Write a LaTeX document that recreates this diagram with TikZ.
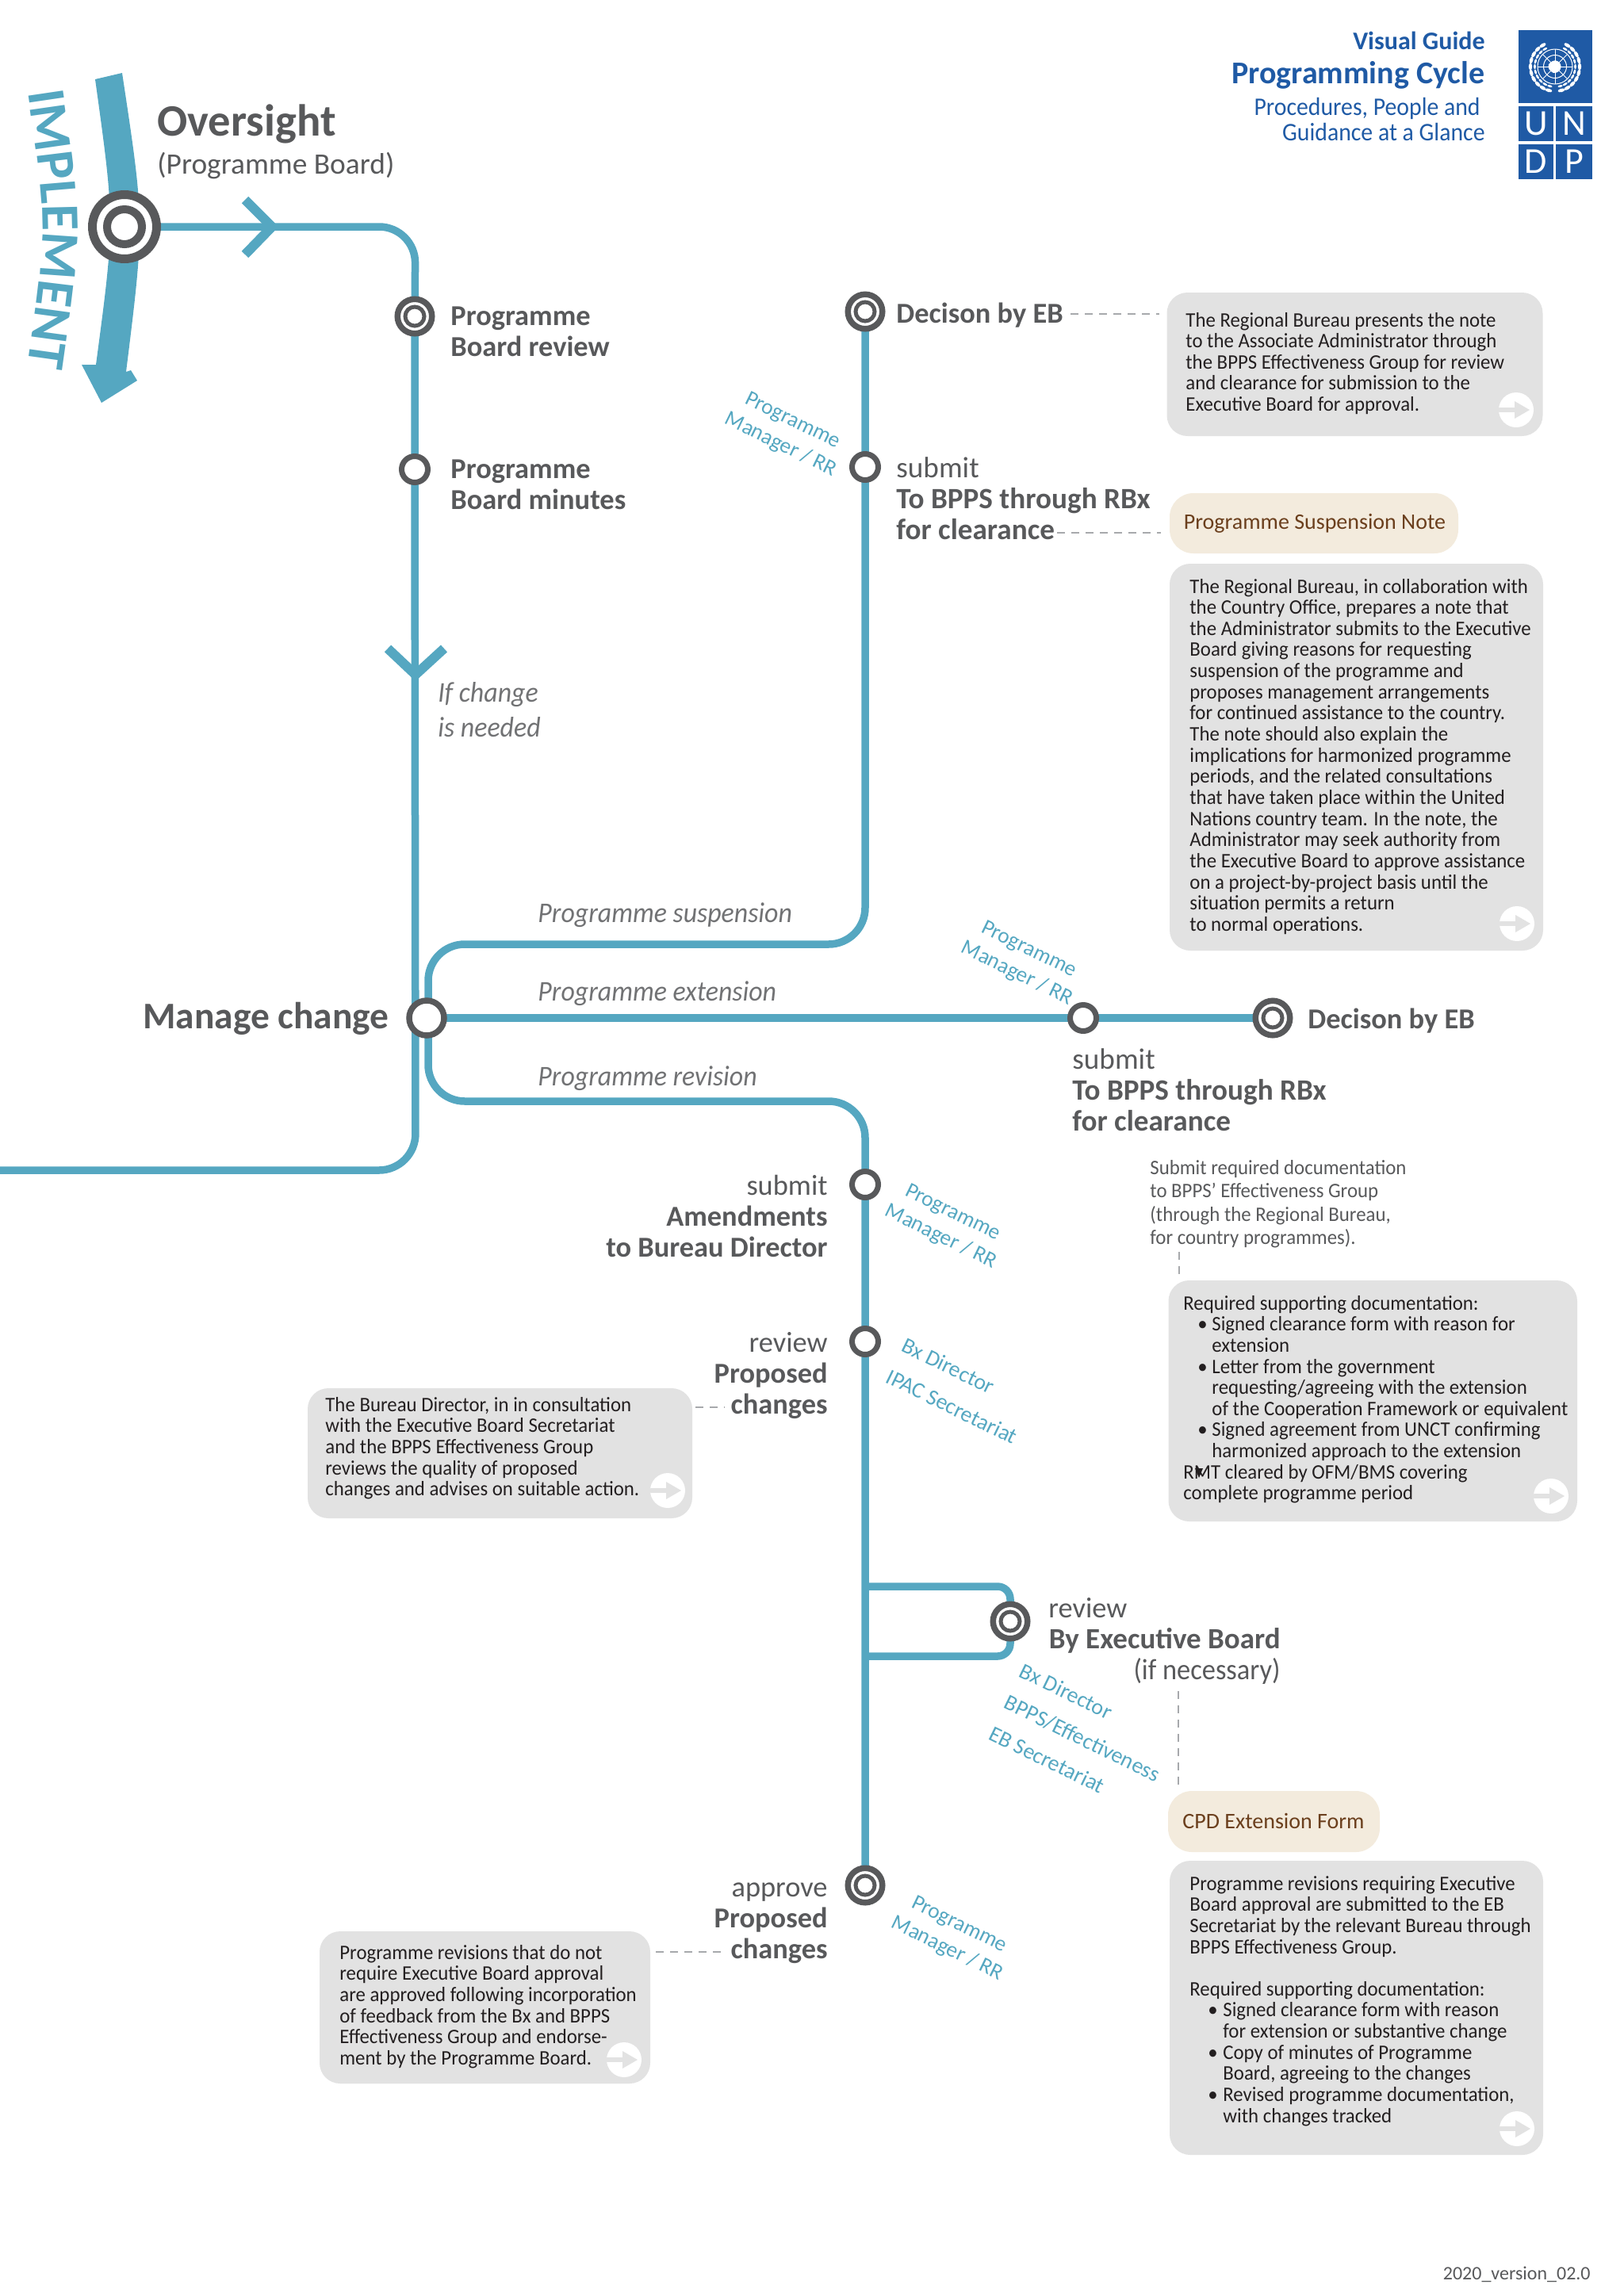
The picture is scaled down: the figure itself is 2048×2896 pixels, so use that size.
\documentclass[tikz,border=0pt]{standalone}
\usepackage{fontspec}
\setmainfont{Carlito}
\newfontfamily\bodyf[FakeStretch=0.955]{Carlito}
\newfontfamily\itf[FakeStretch=0.94]{Carlito}
\newfontfamily\headf[FakeStretch=0.93]{Carlito}
\usetikzlibrary{backgrounds,decorations.text}
\definecolor{tealline}{HTML}{55A7C1}
\definecolor{ringdark}{HTML}{58595B}
\definecolor{undpblue}{HTML}{1F5AA5}
\definecolor{boxgray}{HTML}{E2E2E2}
\definecolor{boxtan}{HTML}{F3EBDD}
\definecolor{tantext}{HTML}{6B3F1D}
\definecolor{bodyblack}{HTML}{231F20}
\definecolor{dashgray}{HTML}{A7A9AC}
\newcommand\Tl[1]{\begin{tabular}[t]{@{}l@{}}#1\end{tabular}}
\newcommand\Tr[1]{\begin{tabular}[t]{@{}r@{}}#1\end{tabular}}
\newcommand\Tc[1]{\begin{tabular}[t]{@{}c@{}}#1\end{tabular}}
\newcommand\bita[1]{\hspace*{9pt}\makebox[9pt][l]{\textbullet}#1}
\newcommand\bitb[1]{\hspace*{18pt}#1}
\newcommand\bitc[1]{\hspace*{11.5pt}\makebox[9.5pt][l]{\textbullet}#1}
\newcommand\bitd[1]{\hspace*{21pt}#1}
\tikzset{
  x=0.5pt,y=-0.5pt,
  tline/.style={draw=tealline,line width=4.75pt,rounded corners=23pt},
  tlinesmall/.style={draw=tealline,line width=4.75pt,rounded corners=8pt},
  chev/.style={draw=tealline,line width=6pt,miter limit=10},
  ringsm/.style={circle,draw=ringdark,fill=white,line width=3.5pt,minimum size=16.5pt,inner sep=0pt},
  ringmc/.style={circle,draw=ringdark,fill=white,line width=3.75pt,minimum size=22pt,inner sep=0pt},
  ringmid/.style={circle,draw=ringdark,fill=white,line width=3.75pt,minimum size=21.75pt,inner sep=0pt},
  ringmidin/.style={circle,draw=ringdark,fill=white,line width=2.5pt,minimum size=12pt,inner sep=0pt},
  ringbig/.style={circle,draw=ringdark,fill=white,line width=5.5pt,minimum size=40.5pt,inner sep=0pt},
  ringbigin/.style={circle,draw=ringdark,fill=white,line width=5pt,minimum size=22pt,inner sep=0pt},
  lbl/.style={inner sep=0pt,text=ringdark,font=\fontsize{18.2}{19.5}\selectfont},
  lbw/.style={lbl,anchor=base west},
  lbe/.style={lbl,anchor=base east},
  ital/.style={inner sep=0pt,anchor=base west,text=ringdark!85,font=\fontsize{18}{22}\selectfont\itf\itshape},
  rot/.style={inner sep=0pt,text=tealline,rotate=-26,font=\fontsize{13.7}{17}\selectfont},
  rotw/.style={rot,font=\fontsize{14}{22}\selectfont},
  body/.style={inner sep=0pt,anchor=base west,text=bodyblack,font=\fontsize{13}{13.33}\selectfont\bodyf},
  gbox/.style={fill=boxgray,rounded corners=13pt},
  dashc/.style={draw=dashgray,line width=1pt,dash pattern=on 5pt off 4pt},
  gocirc/.style={circle,fill=white,minimum size=22pt,inner sep=0pt,
    path picture={\fill[boxgray] ([shift={(-11pt,-1.6pt)}]path picture bounding box.center) rectangle ([shift={(-1pt,1.6pt)}]path picture bounding box.center);
      \fill[boxgray] ([shift={(-1pt,5.5pt)}]path picture bounding box.center) -- ([shift={(8.5pt,0pt)}]path picture bounding box.center) -- ([shift={(-1pt,-5.5pt)}]path picture bounding box.center) -- cycle;}},
  logosq/.style={fill=undpblue},
  logotxt/.style={inner sep=0pt,text=white,font=\fontsize{23}{23}\selectfont},
}
\begin{document}
\begin{tikzpicture}
\useasboundingbox (0,0) rectangle (2048,2896);

% IMPLEMENT band
\fill[tealline] (120,100) .. controls (145,280) .. (121,460) -- (103,460) -- (128,508) -- (173,480) -- (165,467) -- (159,469) .. controls (182.5,280) .. (154,92) -- cycle;
\path[decorate,decoration={text along path,text align={fit to path},
  text={|\fontsize{34}{34}\selectfont\bfseries\color{tealline}|IMPLEMENT}}]
  (35,116) .. controls (60,285) .. (35,462);

% Rings
\node[ringbig] (ov) at (157,286) {};
\node[ringbigin] (ovi) at (157,286) {};
\node[ringmid] (pbr) at (523,399) {};
\node[ringmidin] (pbri) at (523,399) {};
\node[ringsm] (pbm) at (523,592) {};
\node[ringmc] (mc) at (538,1284) {};
\node[ringmid] (d1) at (1091,393) {};
\node[ringmidin] (d1i) at (1091,393) {};
\node[ringsm] (s1) at (1091,589) {};
\node[ringsm] (s2) at (1366,1284) {};
\node[ringmid] (d2) at (1605,1284) {};
\node[ringmidin] (d2i) at (1605,1284) {};
\node[ringsm] (a1) at (1091,1494) {};
\node[ringsm] (r1) at (1091,1692) {};
\node[ringmid] (eb) at (1274,2045) {};
\node[ringmidin] (ebi) at (1274,2045) {};
\node[ringmid] (ap) at (1091,2378) {};
\node[ringmidin] (api) at (1091,2378) {};

\coordinate (c1) at (524,286);
\coordinate (c2) at (524,1476);
\coordinate (leftend) at (0,1476);
\coordinate (sus1) at (540,1191);
\coordinate (sus2) at (1091,1191);
\coordinate (rev1) at (540,1389);
\coordinate (rev2) at (1091,1389);
\coordinate (ebt0) at (1091,2001);
\coordinate (ebt1) at (1274,2001);
\coordinate (ebb0) at (1091,2089);
\coordinate (ebb1) at (1274,2089);
\coordinate (mcu) at (540,1284);

\begin{scope}[on background layer]
\draw[tline] (ov.center) -- (c1) -- (pbr.center) -- (pbm.center) -- (c2) -- (leftend);
\draw[tline] (mcu) -- (sus1) -- (sus2) -- (s1.center) -- (d1.center);
\draw[tline] (mc.center) -- (s2.center) -- (d2.center);
\draw[tline] (mcu) -- (rev1) -- (rev2) -- (a1.center) -- (r1.center) -- (ap.center);
\draw[tlinesmall] (ebt0) -- (ebt1) -- (eb.center);
\draw[tlinesmall] (ebb0) -- (ebb1) -- (eb.center);
\end{scope}

% chevrons
\coordinate (ch1a) at (309,252); \coordinate (ch1b) at (343,286); \coordinate (ch1c) at (309,321);
\draw[chev] (ch1a) -- (ch1b) -- (ch1c);
\coordinate (ch2a) at (489,818); \coordinate (ch2b) at (524,851); \coordinate (ch2c) at (560,818);
\draw[chev] (ch2a) -- (ch2b) -- (ch2c);

% Main labels
\node[lbw,font=\fontsize{28.3}{30}\selectfont\bfseries] (t1) at (198,171) {Oversight};
\node[lbw,font=\fontsize{18.7}{20}\selectfont] (t2) at (198,219) {(Programme Board)};
\node[lbw] (t3) at (568,410) {\Tl{\bfseries Programme\\\bfseries Board review}};
\node[lbw] (t4) at (568,603) {\Tl{\bfseries Programme\\\bfseries Board minutes}};
\node[ital] (t5) at (552,885) {\Tl{If change\\is needed}};
\node[lbw] (t6) at (1130,407) {\bfseries Decison by EB};
\node[lbw,font=\fontsize{18.6}{19.5}\selectfont] (t7) at (1130,602) {\Tl{submit\\\bfseries To BPPS through RBx\\\bfseries for clearance}};
\node[lbe,font=\fontsize{23.7}{26}\selectfont\bfseries] (t8) at (491,1297) {Manage change};
\node[ital] (t9) at (678,1163) {Programme suspension};
\node[ital] (t10) at (678,1262) {Programme extension};
\node[ital] (t11) at (678,1369) {Programme revision};
\node[lbw] (t12) at (1649,1297) {\bfseries Decison by EB};
\node[lbw,font=\fontsize{18.6}{19.5}\selectfont] (t13) at (1352,1348) {\Tl{submit\\\bfseries To BPPS through RBx\\\bfseries for clearance}};
\node[lbe] (t14) at (1044,1507) {\Tr{submit\\\bfseries Amendments\\\bfseries to Bureau Director}};
\node[lbe] (t15) at (1044,1705) {\Tr{review\\\bfseries Proposed\\\bfseries changes}};
\node[lbe] (t16) at (1044,2392) {\Tr{approve\\\bfseries Proposed\\\bfseries changes}};
\node[lbw] (t17) at (1322,2040) {review};
\node[lbe,font=\fontsize{18.5}{19.5}\selectfont] (t18) at (1615,2079) {\Tr{\bfseries By Executive Board\\{\headf (if necessary)}}};

% Rotated role labels
\node[rot] (g1) at (992,546) {\Tc{Programme\\Manager / RR}};
\node[rot] (g2) at (1290,1213) {\Tc{Programme\\Manager / RR}};
\node[rot] (g3) at (1194,1545) {\Tc{Programme\\Manager / RR}};
\node[rotw] (g4) at (1210,1755) {\Tl{Bx Director\\IPAC Secretariat}};
\node[rotw,anchor=north west] (g5) at (1297,2086) {\Tl{Bx Director\\BPPS/Effectiveness\\EB Secretariat}};
\node[rot] (g6) at (1202,2443) {\Tc{Programme\\Manager / RR}};

% Header
\node[inner sep=0pt,anchor=base east,text=undpblue,font=\fontsize{16}{18}\selectfont\bfseries] (h1) at (1873,62) {Visual Guide};
\node[inner sep=0pt,anchor=base east,text=undpblue,font=\fontsize{20}{22}\selectfont\bfseries] (h2) at (1873,105) {Programming Cycle};
\node[inner sep=0pt,anchor=base east,text=undpblue,font=\fontsize{16}{18}\selectfont\headf] (h3) at (1867,145) {Procedures, People and};
\node[inner sep=0pt,anchor=base east,text=undpblue,font=\fontsize{16}{18}\selectfont\headf] (h4) at (1873,177) {Guidance at a Glance};

% Logo
\fill[logosq] (1914.5,38) rectangle (2007.5,130);
\fill[logosq] (1914.5,134) rectangle (1959,178);
\fill[logosq] (1962,134) rectangle (2007.5,178);
\fill[logosq] (1914.5,182) rectangle (1959,226);
\fill[logosq] (1962,182) rectangle (2007.5,226);
\node[logotxt] (lu) at (1937,156) {U};
\node[logotxt] (ln) at (1985,156) {N};
\node[logotxt] (ld) at (1937,204) {D};
\node[logotxt] (lp) at (1985,204) {P};
\begin{scope}[shift={(1961,84)}]
  \draw[white,line width=0.5pt] (0,0) circle[radius=22] (0,0) circle[radius=14.5] (0,0) circle[radius=7];
  \foreach \a in {0,45,...,315} \draw[white,line width=0.5pt] (0,0) -- (\a:22);
  \fill[white] (-8,-3) .. controls (-2,-10) and (6,-8) .. (7,-2) .. controls (9,4) and (2,9) .. (-2,8) .. controls (-6,6) and (-10,2) .. (-8,-3);
  \foreach \a in {-60,-45,...,75} {
    \fill[white,rotate=\a] (-31,0) ellipse[x radius=2.2,y radius=4.5];
    \fill[white,rotate=-\a] (31,0) ellipse[x radius=2.2,y radius=4.5];
    \fill[white,rotate=\a] (-25.5,0) ellipse[x radius=1.4,y radius=3.2];
    \fill[white,rotate=-\a] (25.5,0) ellipse[x radius=1.4,y radius=3.2];
  }
\end{scope}

% Grey boxes
\fill[gbox] (1471.5,369) rectangle (1945.5,550);
\node[body] (b1) at (1495,412) {\Tl{The Regional Bureau presents the note\\to the Associate Administrator through\\the BPPS Effectiveness Group for review\\and clearance for submission to the\\Executive Board for approval.}};
\node[gocirc] (b1g) at (1912,517) {};
\coordinate (dA0) at (1350,396); \coordinate (dA1) at (1462,396);
\draw[dashc] (dA0) -- (dA1);

\fill[boxtan,rounded corners=15pt] (1475,622) rectangle (1839,698);
\node[inner sep=0pt,text=tantext,font=\fontsize{14}{16}\selectfont] (n1) at (1658,660) {Programme Suspension Note};
\coordinate (dB0) at (1333,672); \coordinate (dB1) at (1464,672);
\draw[dashc] (dB0) -- (dB1);

\fill[gbox] (1475,711) rectangle (1946,1199);
\node[body] (b2) at (1500,748) {\Tl{The Regional Bureau, in collaboration with\\the Country Office, prepares a note that\\the Administrator submits to the Executive\\Board giving reasons for requesting\\suspension of the programme and\\proposes management arrangements\\for continued assistance to the country.\\The note should also explain the\\implications for harmonized programme\\periods, and the related consultations\\that have taken place within the United\\Nations country team. In the note, the\\Administrator may seek authority from\\the Executive Board to approve assistance\\on a project-by-project basis until the\\situation permits a return\\to normal operations.}};
\node[gocirc] (b2g) at (1913,1165) {};

\node[body,text=ringdark,font=\fontsize{13}{14.75}\selectfont\bodyf] (n2) at (1450,1481) {\Tl{Submit required documentation\\to BPPS’ Effectiveness Group\\(through the Regional Bureau,\\for country programmes).}};
\coordinate (dC0) at (1487,1579); \coordinate (dC1) at (1487,1611);
\draw[dashc] (dC0) -- (dC1);

\fill[gbox] (1473.5,1615) rectangle (1989,1919);
\node[body] (b3) at (1492,1652) {\Tl{Required supporting documentation:\\\bita{Signed clearance form with reason for}\\\bitb{extension}\\\bita{Letter from the government}\\\bitb{requesting/agreeing with the extension}\\\bitb{of the Cooperation Framework or equivalent}\\\bita{Signed agreement from UNCT confirming}\\\bitb{harmonized approach to the extension}\\RMT cleared by OFM/BMS covering\\complete programme period}};
\fill[bodyblack] (1507,1852) -- (1517,1852) -- (1512,1864) -- cycle;
\node[gocirc] (b3g) at (1956,1887) {};

\fill[gbox] (388,1751) rectangle (873,1915);
\node[body] (b4) at (410,1780) {\Tl{The Bureau Director, in in consultation\\with the Executive Board Secretariat\\and the BPPS Effectiveness Group\\reviews the quality of proposed\\changes and advises on suitable action.}};
\node[gocirc] (b4g) at (842,1880) {};
\coordinate (dD0) at (877,1775); \coordinate (dD1) at (914,1775);
\draw[dashc] (dD0) -- (dD1);

\fill[boxtan,rounded corners=15pt] (1473,2259) rectangle (1740,2336);
\node[inner sep=0pt,text=tantext,font=\fontsize{14}{16}\selectfont] (n3) at (1606,2297) {CPD Extension Form};
\coordinate (dE0) at (1486,2133); \coordinate (dE1) at (1486,2257);
\draw[dashc] (dE0) -- (dE1);

\fill[gbox] (1475,2347) rectangle (1946,2718);
\node[body] (b5) at (1500,2384) {\Tl{Programme revisions requiring Executive\\Board approval are submitted to the EB\\Secretariat by the relevant Bureau through\\BPPS Effectiveness Group.\\ \\Required supporting documentation:\\\bitc{Signed clearance form with reason}\\\bitd{for extension or substantive change}\\\bitc{Copy of minutes of Programme}\\\bitd{Board, agreeing to the changes}\\\bitc{Revised programme documentation,}\\\bitd{with changes tracked}}};
\node[gocirc] (b5g) at (1913,2685) {};

\fill[gbox] (403,2436) rectangle (820,2628);
\node[body] (b6) at (428,2471) {\Tl{Programme revisions that do not\\require Executive Board approval\\are approved following incorporation\\of feedback from the Bx and BPPS\\Effectiveness Group and endorse-\\ment by the Programme Board.}};
\node[gocirc] (b6g) at (787,2598) {};
\coordinate (dF0) at (827,2462); \coordinate (dF1) at (910,2462);
\draw[dashc] (dF0) -- (dF1);

\node[inner sep=0pt,anchor=base east,text=ringdark,font=\fontsize{12}{14}\selectfont] (ver) at (2006,2875) {2020\_version\_02.0};
\end{tikzpicture}
\end{document}
